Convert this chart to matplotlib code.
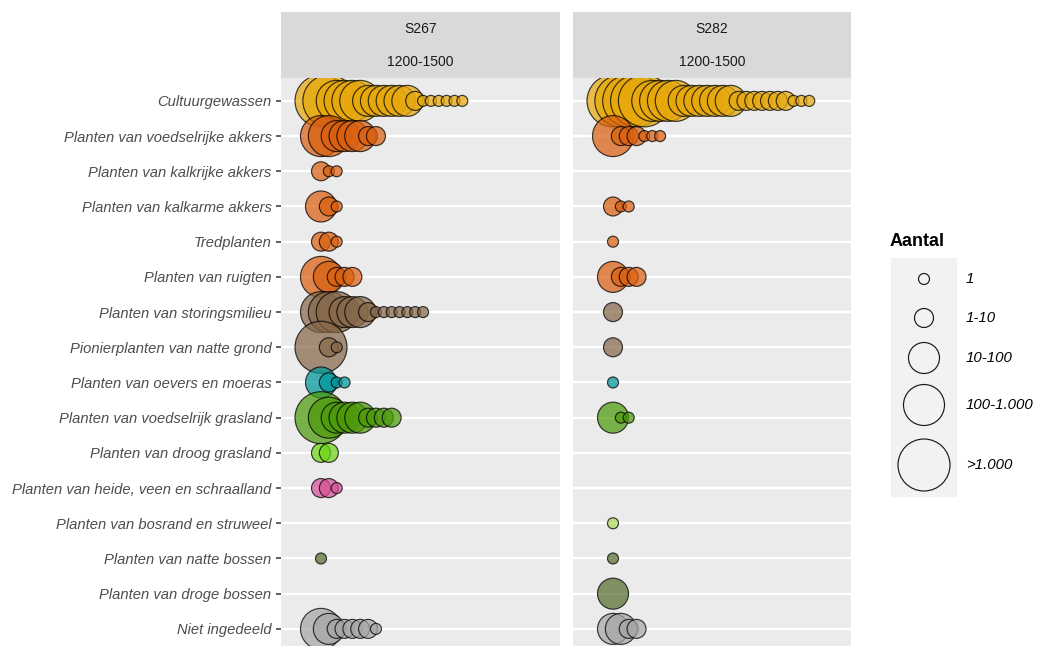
import matplotlib
matplotlib.use("Agg")
import matplotlib.pyplot as plt

plt.rcParams['font.family'] = ['Liberation Sans', 'DejaVu Sans']

# ecological groups, top to bottom
groups = [
    "Cultuurgewassen",
    "Planten van voedselrijke akkers",
    "Planten van kalkrijke akkers",
    "Planten van kalkarme akkers",
    "Tredplanten",
    "Planten van ruigten",
    "Planten van storingsmilieu",
    "Pionierplanten van natte grond",
    "Planten van oevers en moeras",
    "Planten van voedselrijk grasland",
    "Planten van droog grasland",
    "Planten van heide, veen en schraalland",
    "Planten van bosrand en struweel",
    "Planten van natte bossen",
    "Planten van droge bossen",
    "Niet ingedeeld",
]

# abundance class per taxon (1 = "1" ... 5 = ">1.000"), sorted by rank
s267 = [
    [5, 5, 4, 4, 4, 4, 3, 3, 3, 3, 3, 3, 2, 1, 1, 1, 1, 1, 1],
    [4, 4, 3, 3, 3, 3, 2, 2],
    [2, 1, 1],
    [3, 2, 1],
    [2, 2, 1],
    [4, 3, 2, 2, 2],
    [4, 4, 4, 3, 3, 3, 2, 1, 1, 1, 1, 1, 1, 1],
    [5, 2, 1],
    [3, 2, 1, 1],
    [5, 4, 3, 3, 3, 3, 2, 2, 2, 2],
    [2, 2],
    [2, 2, 1],
    [],
    [1],
    [],
    [4, 3, 2, 2, 2, 2, 2, 1],
]
s282 = [
    [5, 5, 5, 5, 5, 4, 4, 4, 4, 3, 3, 3, 3, 3, 3, 3, 2, 2, 2, 2, 2, 2, 2, 1, 1, 1],
    [4, 2, 2, 2, 1, 1, 1],
    [],
    [2, 1, 1],
    [1],
    [3, 2, 2, 2],
    [2],
    [2],
    [1],
    [3, 1, 1],
    [],
    [],
    [1],
    [1],
    [3],
    [3, 3, 2, 2],
]
panels = [("S267", s267), ("S282", s282)]
period = "1200-1500"
size_labels = ["1", "1-10", "10-100", "100-1.000", ">1.000"]

group_colors = [
    "#E6A80C", "#DA6010", "#DA6010", "#DA6010", "#DA6010", "#DA6010",
    "#86684A", "#86684A", "#00959B", "#4C9A0A", "#6CD414", "#D65197",
    "#ACD85B", "#566F2E", "#566F2E", "#A6A6A6",
]

W, H, DPI = 1039, 646, 100
diam_px = [11, 19, 31, 41, 52]   # marker diameter per class
step_px = 7.85                   # spacing between ranks


def msize(d):
    return (d * 72.0 / DPI) ** 2


def fbox(x0, y0, x1, y1):
    return [x0 / W, 1 - y1 / H, (x1 - x0) / W, (y1 - y0) / H]


fig = plt.figure(figsize=(W / DPI, H / DPI), dpi=DPI)

panel_x = [(281, 560), (573, 851)]
n = len(groups)
for k, (site, data) in enumerate(panels):
    x0, x1 = panel_x[k]
    ax = fig.add_axes(fbox(x0, 78, x1, 650))
    ax.set_facecolor("#EBEBEB")
    for s in ax.spines.values():
        s.set_visible(False)
    lo = -40 / step_px
    ax.set_xlim(lo, lo + (x1 - x0) / step_px)
    ax.set_ylim(n - 1 + 0.6, -0.65)
    ax.set_yticks(range(n))
    ax.set_xticks([])
    ax.grid(axis="y", color="white", linewidth=1.7)
    ax.set_axisbelow(True)
    if k == 0:
        ax.set_yticklabels(groups, fontstyle="italic", color="#4D4D4D", fontsize=10.6)
        ax.tick_params(axis="y", length=3.6, width=1.1, color="#333333", pad=3.2)
    else:
        ax.tick_params(axis="y", length=0, labelleft=False)

    for row, classes in enumerate(data):
        for i, c in enumerate(classes):
            ax.scatter(i, row, s=msize(diam_px[c - 1]), color=group_colors[row],
                       alpha=0.72, edgecolors="none", zorder=3)
            ax.scatter(i, row, s=msize(diam_px[c - 1]), facecolors="none",
                       edgecolors=(0, 0, 0, 0.75), linewidths=0.85, zorder=3)

    # facet strip
    st = fig.add_axes(fbox(x0, 12, x1, 78))
    st.set_facecolor("#D9D9D9")
    st.set_xticks([])
    st.set_yticks([])
    for s in st.spines.values():
        s.set_visible(False)
    st.text(0.5, 0.745, site, ha="center", va="center", fontsize=10, color="#1A1A1A",
            transform=st.transAxes)
    st.text(0.5, 0.245, period, ha="center", va="center", fontsize=10, color="#1A1A1A",
            transform=st.transAxes)

# size legend
fig.text(890 / W, 1 - 241 / H, "Aantal", fontsize=13, fontweight="bold",
         ha="left", va="center", color="black")
lg = fig.add_axes(fbox(891, 258, 957, 497))
lg.set_facecolor("#F2F2F2")
lg.set_xlim(891, 957)
lg.set_ylim(497, 258)
lg.set_xticks([])
lg.set_yticks([])
for s in lg.spines.values():
    s.set_visible(False)
key_y = [279, 318, 358, 405, 465]
for j, lab in enumerate(size_labels):
    lg.scatter(924, key_y[j], s=msize(diam_px[j]), facecolors="none",
               edgecolors="#1A1A1A", linewidths=0.85)
    fig.text(966 / W, 1 - key_y[j] / H, lab, fontsize=10.8, fontstyle="italic",
             ha="left", va="center", color="black")

fig.savefig("out.png", dpi=DPI)
